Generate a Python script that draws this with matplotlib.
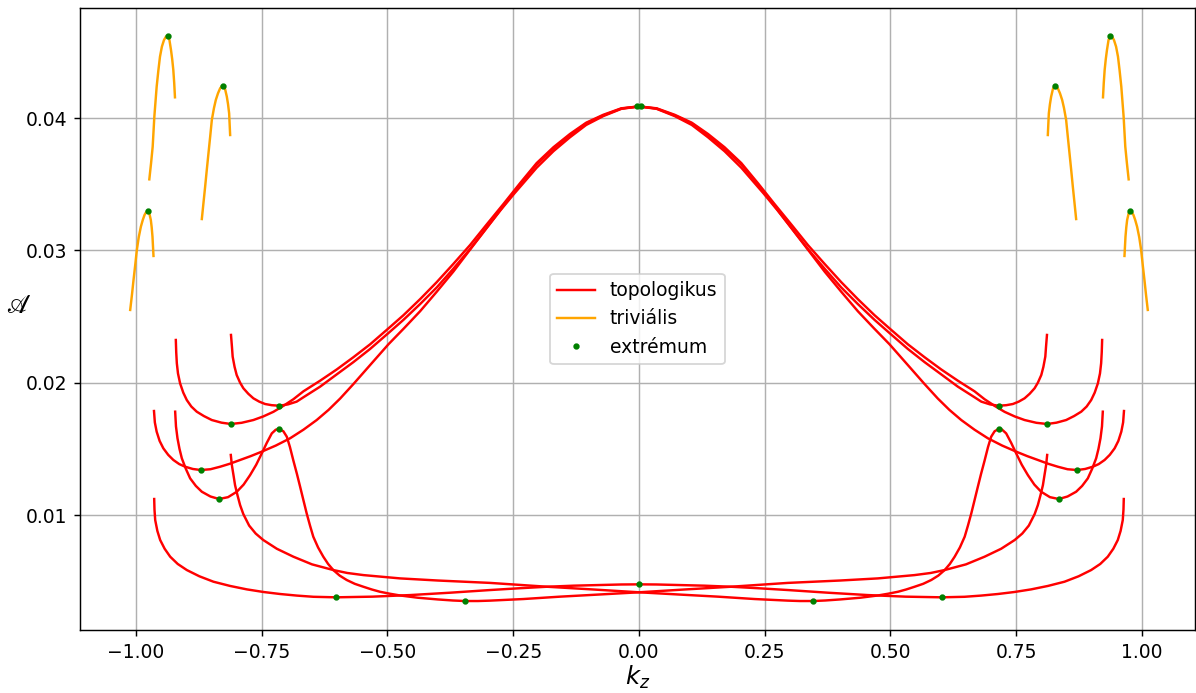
import numpy as np
import matplotlib
matplotlib.use("Agg")
import matplotlib.pyplot as plt

# --- topological branches, left half, mirrored later ---
a_kz = np.array([-0.8111, -0.8092, -0.8078, -0.8040, -0.7998, -0.7930, -0.7865, -0.7766, -0.7666,
                 -0.7550, -0.7433, -0.7300, -0.7150, -0.6980, -0.6805, -0.6671, -0.6340, -0.6009,
                 -0.5680, -0.5346, -0.4982, -0.4683, -0.4350, -0.4021, -0.3690, -0.3359, -0.3030,
                 -0.2696, -0.2360, -0.2034, -0.1700, -0.1372, -0.1050, -0.0710, -0.0350, 0.0])
a_val = np.array([0.02361, 0.02270, 0.02197, 0.02120, 0.02058, 0.02000, 0.01958, 0.01916, 0.01882,
                  0.01857, 0.01839, 0.01830, 0.01826, 0.01836, 0.01857, 0.01890, 0.01970, 0.02063,
                  0.02155, 0.02255, 0.02375, 0.02475, 0.02595, 0.02720, 0.02862, 0.03010, 0.03170,
                  0.03335, 0.03500, 0.03650, 0.03770, 0.03870, 0.03960, 0.04020, 0.04072, 0.04088])

b_kz = np.array([-0.9208, -0.9200, -0.9188, -0.9165, -0.9123, -0.9060, -0.8990, -0.8900, -0.8792,
                 -0.8650, -0.8493, -0.8300, -0.8115, -0.7900, -0.7666, -0.7470, -0.7268, -0.7070,
                 -0.6871, -0.6671, -0.6340, -0.6009, -0.5680, -0.5346, -0.4982, -0.4683, -0.4350,
                 -0.4021, -0.3690, -0.3359, -0.3030, -0.2696, -0.2360, -0.2034, -0.1700, -0.1372,
                 -0.1050, -0.0710, -0.0350, 0.0])
b_val = np.array([0.02323, 0.02230, 0.02147, 0.02070, 0.01995, 0.01925, 0.01869, 0.01820, 0.01781,
                  0.01748, 0.01718, 0.01698, 0.01688, 0.01697, 0.01718, 0.01745, 0.01780, 0.01825,
                  0.01875, 0.01935, 0.02015, 0.02100, 0.02192, 0.02290, 0.02410, 0.02510, 0.02632,
                  0.02760, 0.02898, 0.03040, 0.03195, 0.03350, 0.03510, 0.03660, 0.03780, 0.03880,
                  0.03965, 0.04025, 0.04074, 0.04088])

c_kz = np.array([-0.9642, -0.9625, -0.9589, -0.9530, -0.9456, -0.9360, -0.9257, -0.9140, -0.9022,
                 -0.8870, -0.8711, -0.8520, -0.8327, -0.8130, -0.7930, -0.7720, -0.7499, -0.7220,
                 -0.6936, -0.6670, -0.6407, -0.6170, -0.5942, -0.5677, -0.5330, -0.4982, -0.4670,
                 -0.4352, -0.4020, -0.3690, -0.3360, -0.3027, -0.2750, -0.2478, -0.2250, -0.2034,
                 -0.1700, -0.1372, -0.1050, -0.0710, -0.0350, 0.0])
c_val = np.array([0.01786, 0.01700, 0.01630, 0.01560, 0.01504, 0.01455, 0.01416, 0.01385, 0.01365,
                  0.01348, 0.01340, 0.01346, 0.01365, 0.01388, 0.01416, 0.01445, 0.01479, 0.01525,
                  0.01580, 0.01645, 0.01718, 0.01795, 0.01880, 0.01990, 0.02140, 0.02290, 0.02412,
                  0.02540, 0.02688, 0.02840, 0.03005, 0.03170, 0.03305, 0.03430, 0.03530, 0.03625,
                  0.03750, 0.03855, 0.03948, 0.04015, 0.04070, 0.04088])

# the bumpy branch runs from -0.92 to 0.81; its partner is its mirror image
d_kz = np.array([-0.9221, -0.9205, -0.9175, -0.9135, -0.9089, -0.9010, -0.8923, -0.8810, -0.8691,
                 -0.8520, -0.8347, -0.8170, -0.7995, -0.7860, -0.7731, -0.7610, -0.7499, -0.7400,
                 -0.7300, -0.7220, -0.7148, -0.7070, -0.7002, -0.6940, -0.6870, -0.6800, -0.6737,
                 -0.6670, -0.6607, -0.6540, -0.6475, -0.6380, -0.6276, -0.6180, -0.6077, -0.5950,
                 -0.5811, -0.5650, -0.5480, -0.5310, -0.5149, -0.4950, -0.4750, -0.4400, -0.4000,
                 -0.3700, -0.3458, -0.3200, -0.2960, -0.2300, -0.1570, -0.0800, 0.0,
                 0.0900, 0.1828, 0.2962, 0.4000, 0.4750, 0.5479, 0.5800, 0.6075, 0.6500, 0.6871,
                 0.7200, 0.7469, 0.7620, 0.7750, 0.7866, 0.7930, 0.7983, 0.8030, 0.8062, 0.8095,
                 0.8115])
d_val = np.array([0.01781, 0.01670, 0.01580, 0.01500, 0.01429, 0.01350, 0.01277, 0.01220, 0.01176,
                  0.01140, 0.01121, 0.01135, 0.01176, 0.01230, 0.01302, 0.01380, 0.01466, 0.01545,
                  0.01617, 0.01645, 0.01650, 0.01633, 0.01592, 0.01515, 0.01410, 0.01310, 0.01214,
                  0.01110, 0.01013, 0.00920, 0.00836, 0.00755, 0.00685, 0.00630, 0.00584, 0.00542,
                  0.00509, 0.00480, 0.00458, 0.00437, 0.00420, 0.00405, 0.00392, 0.00375, 0.00362,
                  0.00354, 0.00350, 0.00350, 0.00353, 0.00365, 0.00383, 0.00399, 0.00416,
                  0.00437, 0.00458, 0.00487, 0.00505, 0.00521, 0.00546, 0.00562, 0.00584, 0.00627,
                  0.00685, 0.00745, 0.00811, 0.00860, 0.00920, 0.01007, 0.01075, 0.01151, 0.01225,
                  0.01302, 0.01380, 0.01454])

f_kz = np.array([-0.9638, -0.9632, -0.9618, -0.9575, -0.9519, -0.9430, -0.9320, -0.9170, -0.8989,
                 -0.8740, -0.8460, -0.8130, -0.7796, -0.7460, -0.7134, -0.6800, -0.6472, -0.6021,
                 -0.5300, -0.4550, -0.3750, -0.2962, -0.2400, -0.1828, -0.1300, -0.0775, -0.0350,
                 0.0])
f_val = np.array([0.01121, 0.01040, 0.00962, 0.00880, 0.00811, 0.00745, 0.00685, 0.00630, 0.00584,
                  0.00537, 0.00496, 0.00464, 0.00438, 0.00418, 0.00403, 0.00391, 0.00382, 0.00378,
                  0.00383, 0.00395, 0.00413, 0.00433, 0.00446, 0.00458, 0.00466, 0.00471, 0.00475,
                  0.00476])

# --- trivial branches, left side ---
t1_kz = np.array([-0.9735, -0.9700, -0.9668, -0.9635, -0.9589, -0.9555, -0.9523, -0.9485, -0.9443,
                  -0.9405, -0.9370, -0.9335, -0.9304, -0.9280, -0.9258, -0.9240, -0.9225])
t1_val = np.array([0.03537, 0.03660, 0.03784, 0.04011, 0.04237, 0.04360, 0.04464, 0.04540, 0.04590,
                   0.04615, 0.04623, 0.04590, 0.04515, 0.04445, 0.04364, 0.04265, 0.04157])
t2_kz = np.array([-0.8691, -0.8658, -0.8625, -0.8592, -0.8559, -0.8525, -0.8492, -0.8450, -0.8413,
                  -0.8370, -0.8327, -0.8295, -0.8261, -0.8228, -0.8194, -0.8170, -0.8148, -0.8128])
t2_val = np.array([0.03237, 0.03360, 0.03482, 0.03610, 0.03734, 0.03860, 0.03986, 0.04075, 0.04137,
                   0.04187, 0.04225, 0.04240, 0.04245, 0.04218, 0.04162, 0.04105, 0.04036, 0.03872])
t3_kz = np.array([-1.0115, -1.0080, -1.0049, -1.0015, -0.9983, -0.9945, -0.9903, -0.9865, -0.9830,
                  -0.9797, -0.9764, -0.9735, -0.9705, -0.9688, -0.9672, -0.9652])
t3_val = np.array([0.02550, 0.02665, 0.02776, 0.02890, 0.03003, 0.03100, 0.03179, 0.03230, 0.03268,
                   0.03290, 0.03300, 0.03280, 0.03230, 0.03175, 0.03104, 0.02958])

# --- extrema (left side, mirrored), plus the ones at kz = 0 ---
ext_kz = np.array([-0.7150, -0.8115, -0.8711, -0.8347, -0.7148, -0.3458, -0.6021, -0.9370, -0.8261, -0.9764])
ext_val = np.array([0.01826, 0.01688, 0.01340, 0.01121, 0.01650, 0.00350, 0.00378, 0.04623, 0.04245, 0.03300])
ext0_kz = np.array([-0.003, 0.005, 0.0])
ext0_val = np.array([0.04088, 0.04088, 0.00476])


def mirror(kz, val):
    return np.concatenate([kz, -kz[::-1][1:]]), np.concatenate([val, val[::-1][1:]])


plt.rcParams['font.size'] = 10.4

fig = plt.figure(figsize=(1196 / 130, 693 / 130), dpi=130)
ax = fig.add_axes([80 / 1196, 1 - 630 / 693, 1115 / 1196, 622 / 693])

lw = 1.35
for kz, val in [(a_kz, a_val), (b_kz, b_val), (c_kz, c_val), (f_kz, f_val)]:
    x, y = mirror(kz, val)
    ax.plot(x, y, color='red', lw=lw)
ax.plot(d_kz, d_val, color='red', lw=lw)
ax.plot(-d_kz, d_val, color='red', lw=lw, label='topologikus')

first = True
for kz, val in [(t1_kz, t1_val), (t2_kz, t2_val), (t3_kz, t3_val)]:
    ax.plot(kz, val, color='orange', lw=lw, label='triviális' if first else None)
    ax.plot(-kz, val, color='orange', lw=lw)
    first = False

ax.plot(np.concatenate([ext_kz, -ext_kz, ext0_kz]),
        np.concatenate([ext_val, ext_val, ext0_val]),
        'g.', markersize=5, label='extrémum')

ax.set_xlim(-1.1113, 1.1054)
ax.set_ylim(0.00131, 0.04832)
ax.set_xticks(np.arange(-1.0, 1.01, 0.25))
ax.grid(True)
ax.set_xlabel(r'$k_z$', fontsize=13.5, labelpad=1)
ax.set_ylabel(r'$\mathscr{A}$', rotation=0, fontsize=15)
ax.legend(loc='center')

fig.savefig('out.png', dpi=130)
